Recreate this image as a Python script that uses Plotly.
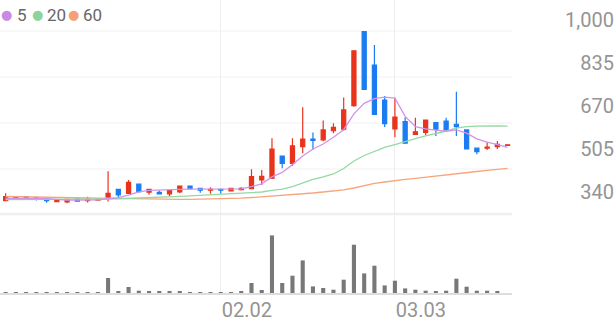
import plotly.graph_objects as go

# ---------------- data ----------------
idx = list(range(50))
opens = [307, 313, 322, 318, 314, 303, 302, 313, 307, 309,
         320, 350, 335, 370, 339, 339, 333, 340, 363, 354,
         347, 350, 344, 349, 353, 386, 393, 478, 450, 514,
         543, 540, 575, 581, 671, 955, 827, 693, 582, 610,
         561, 569, 606, 612, 600, 578, 508, 508, 514, 519]
highs = [335, 325, 324, 319, 315, 312, 313, 318, 322, 314,
         420, 352, 386, 372, 351, 346, 347, 363, 364, 355,
         358, 351, 355, 358, 427, 424, 546, 480, 546, 665,
         568, 614, 604, 703, 882, 955, 904, 708, 702, 627,
         625, 618, 607, 625, 725, 579, 508, 531, 536, 521]
lows = [305, 311, 312, 307, 299, 302, 297, 304, 300, 308,
        303, 320, 332, 338, 329, 332, 325, 335, 350, 337,
        333, 333, 342, 346, 350, 367, 390, 431, 440, 489,
        501, 535, 565, 575, 667, 731, 636, 589, 550, 525,
        559, 559, 555, 571, 555, 503, 485, 501, 505, 519]
closes = [322, 322, 314, 313, 307, 307, 312, 305, 313, 313,
          335, 329, 377, 341, 350, 333, 346, 363, 353, 347,
          350, 347, 354, 354, 399, 400, 505, 450, 517, 543,
          538, 578, 588, 655, 882, 734, 638, 602, 627, 527,
          571, 616, 581, 578, 591, 505, 495, 512, 523, 521]
volumes = [8000, 8000, 8000, 8000, 10000, 8000, 8000, 8000, 8000, 8000,
           150000, 17000, 60000, 23000, 13000, 13000, 13000, 17000, 10000, 10000,
           10000, 10000, 8000, 13000, 100000, 30000, 576000, 100000, 173000, 326000,
           66000, 50000, 33000, 133000, 483000, 196000, 273000, 76000, 123000, 46000,
           33000, 23000, 13000, 23000, 143000, 63000, 23000, 23000, 20000, 0]
ma5 = [315, 315, 316, 316, 314, 312, 309, 309, 309, 310,
       314, 318, 328, 340, 346, 348, 348, 350, 351, 351,
       352, 352, 351, 352, 361, 371, 398, 415, 445, 478,
       505, 524, 550, 579, 640, 680, 698, 704, 700, 630,
       591, 582, 577, 573, 578, 566, 544, 531, 522, 511]
ma20 = [311, 311, 311, 311, 312, 312, 312, 312, 313, 313,
        313, 314, 315, 317, 318, 319, 321, 323, 325, 327,
        328, 330, 332, 334, 337, 340, 346, 351, 361, 376,
        388, 398, 409, 430, 459, 480, 497, 511, 522, 534,
        545, 555, 564, 574, 585, 591, 593, 594, 594, 593]
ma60 = [322.7, 322.3, 321.5, 320.8, 320.0, 319.2, 318.5, 317.7, 316.9, 316.2,
        315.4, 314.6, 313.9, 313.1, 312.7, 312.3, 312.0, 312.0, 312.0, 312.3,
        313.1, 313.9, 315.0, 316.2, 318.9, 321.5, 323.5, 326.5, 329.2, 332.3,
        336.1, 339.9, 343.8, 348.4, 355.3, 364.9, 372.6, 378.3, 384.1, 388.7,
        392.5, 396.4, 400.2, 404.4, 408.3, 412.9, 418.6, 423.2, 427.1, 430.9]
date_ticks = [21, 38]
date_labels = ["02.02", "03.03"]
price_ticks = [340, 505, 670, 835, 1000]
price_labels = ["340", "505", "670", "835", "1,000"]
ma_names = ["5", "20", "60"]

# ---------------- style ----------------
W, H = 616, 321
PLOT_H = 293            # plot area height (px) from the top
PLOT_W = 512
UP, DOWN = "#e8341c", "#1a7cf0"
MA_COLORS = ["#d293ea", "#93d9a4", "#f8a47c"]
DOT_COLORS = ["#c98ae6", "#8dd49c", "#f6a077"]
TXT = "#949494"
FONT = "Roboto"

def py(px):
    return 1 - px / PLOT_H

fig = go.Figure()

for vals, col in zip([ma60, ma20, ma5], MA_COLORS[::-1]):
    fig.add_trace(go.Scatter(x=idx, y=vals, mode="lines",
                             line=dict(color=col, width=1.3),
                             hoverinfo="skip", showlegend=False,
                             xaxis="x", yaxis="y"))

fig.add_trace(go.Candlestick(
    x=idx, open=opens, high=highs, low=lows, close=closes,
    increasing=dict(line=dict(color=UP, width=1.2), fillcolor=UP),
    decreasing=dict(line=dict(color=DOWN, width=1.2), fillcolor=DOWN),
    whiskerwidth=0, showlegend=False, xaxis="x", yaxis="y"))

fig.add_trace(go.Bar(x=idx, y=volumes, marker=dict(color="#787878", line=dict(width=0)),
                     width=0.4, showlegend=False, xaxis="x", yaxis="y2"))

shapes = []
for gy in [31, 77, 123, 169]:
    shapes.append(dict(type="line", xref="paper", yref="paper",
                       x0=0, x1=PLOT_W / W, y0=py(gy), y1=py(gy),
                       line=dict(color="#f1f1f1", width=1), layer="below"))
shapes.append(dict(type="line", xref="paper", yref="paper",
                   x0=0, x1=PLOT_W / W, y0=py(214), y1=py(214),
                   line=dict(color="#efefef", width=2.5), layer="below"))

annotations = []
dot_x = [6, 37, 73]
lab_x = [15, 45, 81]
for name, dc, dx, lx in zip(ma_names, DOT_COLORS, dot_x, lab_x):
    annotations.append(dict(xref="paper", yref="paper", x=dx / W, y=py(15),
                            text="●", showarrow=False, xanchor="center", yanchor="middle",
                            font=dict(color=dc, size=13, family="DejaVu Sans")))
    annotations.append(dict(xref="paper", yref="paper", x=lx / W, y=py(15),
                            text=name, showarrow=False, xanchor="left", yanchor="middle",
                            font=dict(color="#666666", size=17, family=FONT)))

fig.update_layout(
    width=W, height=H,
    margin=dict(l=0, r=0, t=0, b=H - PLOT_H, autoexpand=False),
    paper_bgcolor="white", plot_bgcolor="white",
    boxgap=0.6, boxgroupgap=0,
    showlegend=False,
    shapes=shapes, annotations=annotations,
    xaxis=dict(domain=[0, PLOT_W / W], range=[-0.55, 49.43], anchor="y2",
               tickvals=date_ticks, ticktext=date_labels, ticks="",
               showgrid=True, gridcolor="#eeeeee", gridwidth=1,
               showline=True, linecolor="#dddddd", linewidth=1.5,
               zeroline=False, rangeslider=dict(visible=False),
               tickfont=dict(family=FONT, size=20, color=TXT),
               ticklabelshift=26, ticklabelstandoff=-2,
               automargin=False, fixedrange=True),
    yaxis=dict(domain=[py(214), 1], range=[255.5, 1076.7],
               anchor="free", position=614 / W, side="left",
               tickvals=price_ticks, ticktext=price_labels, ticks="",
               showgrid=False, zeroline=False, showline=False, automargin=False,
               tickfont=dict(family=FONT, size=20, color=TXT)),
    yaxis2=dict(domain=[0, py(215)], range=[0, 780000], anchor="x",
                visible=False, showgrid=False, zeroline=False),
)

fig.write_html("out.html", config={"displayModeBar": False})
